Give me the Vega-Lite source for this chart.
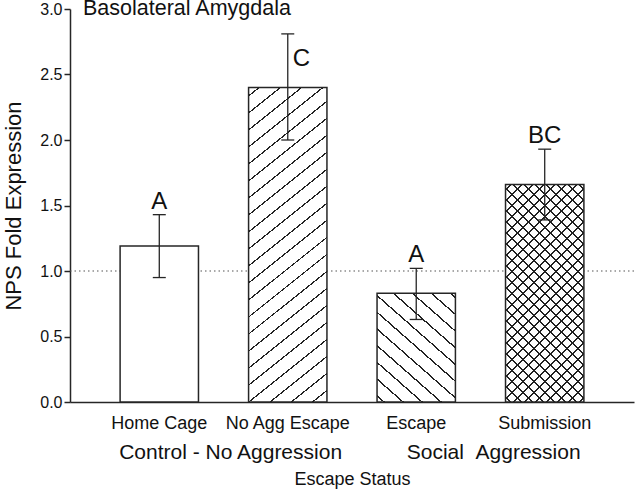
{
"$schema": "https://vega.github.io/schema/vega-lite/v6.json",
"width": 564, "height": 393,
"autosize": {"type": "none"},
"padding": {"left": 70, "top": 9, "right": 4, "bottom": 92},
"background": "white",
"config": {"view": {"stroke": null}, "font": "Liberation Sans", "axis": {"grid": false}},
"title": {"text": "Basolateral Amygdala", "anchor": "start", "frame": "group", "fontSize": 21.5, "fontWeight": "normal", "color": "#111", "dx": 13, "offset": -35, "baseline": "alphabetic", "font": "Liberation Sans"},
"data": {"values": [
 {"cond": "Home Cage", "mean": 1.19, "lo": 0.95, "hi": 1.43, "letter": "A"},
 {"cond": "No Agg Escape", "mean": 2.40, "lo": 2.00, "hi": 2.81, "letter": "C"},
 {"cond": "Escape", "mean": 0.83, "lo": 0.63, "hi": 1.02, "letter": "A"},
 {"cond": "Submission", "mean": 1.66, "lo": 1.39, "hi": 1.93, "letter": "BC"}
]},
"layer": [
 {"data": {"values": [{"ref": 1.0}]},
  "mark": {"type": "rule", "stroke": "#555", "strokeDash": [1.5, 3], "strokeWidth": 1.2},
  "encoding": {"y": {"field": "ref", "type": "quantitative", "title": "NPS Fold Expression", "scale": {"domain": [0, 3], "nice": false}}}},
 {"encoding": {
   "x": {"field": "cond", "type": "nominal", "sort": null,
         "scale": {"domain": ["Home Cage", "No Agg Escape", "Escape", "Submission"], "paddingInner": 0.39, "paddingOuter": 0.39},
         "axis": {"title": null, "labelAngle": 0, "ticks": false, "domain": true, "domainColor": "#262626", "domainWidth": 1.5, "labelFontSize": 18, "labelPadding": 12, "labelColor": "#111", "labelLimit": 300}},
   "y": {"field": "mean", "type": "quantitative", "title": "NPS Fold Expression", "scale": {"domain": [0, 3], "nice": false},
         "axis": {"title": "NPS Fold Expression", "values": [0, 0.5, 1, 1.5, 2, 2.5, 3], "format": ".1f", "tickSize": 6, "tickColor": "#262626", "tickWidth": 1.5, "domainColor": "#262626", "domainWidth": 1.5, "labelFontSize": 16, "labelPadding": 2, "labelColor": "#111", "titleFontSize": 22, "titleFontWeight": "normal", "titlePadding": 14, "titleColor": "#111"}}
  },
  "layer": [
   {"mark": {"type": "bar", "fill": "white"}},
   {"transform": [{"filter": "datum.cond === 'No Agg Escape'"}],
    "mark": {"type": "bar", "fill": {"gradient": "linear", "x1": 0, "y1": 0, "x2": 0.2300, "y2": 1.1536, "stops": [
{"offset":0,"color":"#fff"},
{"offset":0.0200,"color":"#fff"},{"offset":0.0200,"color":"#222"},{"offset":0.0242,"color":"#222"},{"offset":0.0242,"color":"#fff"},
{"offset":0.0651,"color":"#fff"},{"offset":0.0651,"color":"#222"},{"offset":0.0693,"color":"#222"},{"offset":0.0693,"color":"#fff"},
{"offset":0.1102,"color":"#fff"},{"offset":0.1102,"color":"#222"},{"offset":0.1144,"color":"#222"},{"offset":0.1144,"color":"#fff"},
{"offset":0.1553,"color":"#fff"},{"offset":0.1553,"color":"#222"},{"offset":0.1595,"color":"#222"},{"offset":0.1595,"color":"#fff"},
{"offset":0.2004,"color":"#fff"},{"offset":0.2004,"color":"#222"},{"offset":0.2046,"color":"#222"},{"offset":0.2046,"color":"#fff"},
{"offset":0.2455,"color":"#fff"},{"offset":0.2455,"color":"#222"},{"offset":0.2497,"color":"#222"},{"offset":0.2497,"color":"#fff"},
{"offset":0.2906,"color":"#fff"},{"offset":0.2906,"color":"#222"},{"offset":0.2948,"color":"#222"},{"offset":0.2948,"color":"#fff"},
{"offset":0.3357,"color":"#fff"},{"offset":0.3357,"color":"#222"},{"offset":0.3399,"color":"#222"},{"offset":0.3399,"color":"#fff"},
{"offset":0.3808,"color":"#fff"},{"offset":0.3808,"color":"#222"},{"offset":0.3850,"color":"#222"},{"offset":0.3850,"color":"#fff"},
{"offset":0.4259,"color":"#fff"},{"offset":0.4259,"color":"#222"},{"offset":0.4301,"color":"#222"},{"offset":0.4301,"color":"#fff"},
{"offset":0.4710,"color":"#fff"},{"offset":0.4710,"color":"#222"},{"offset":0.4752,"color":"#222"},{"offset":0.4752,"color":"#fff"},
{"offset":0.5161,"color":"#fff"},{"offset":0.5161,"color":"#222"},{"offset":0.5203,"color":"#222"},{"offset":0.5203,"color":"#fff"},
{"offset":0.5612,"color":"#fff"},{"offset":0.5612,"color":"#222"},{"offset":0.5654,"color":"#222"},{"offset":0.5654,"color":"#fff"},
{"offset":0.6063,"color":"#fff"},{"offset":0.6063,"color":"#222"},{"offset":0.6105,"color":"#222"},{"offset":0.6105,"color":"#fff"},
{"offset":0.6514,"color":"#fff"},{"offset":0.6514,"color":"#222"},{"offset":0.6556,"color":"#222"},{"offset":0.6556,"color":"#fff"},
{"offset":0.6965,"color":"#fff"},{"offset":0.6965,"color":"#222"},{"offset":0.7007,"color":"#222"},{"offset":0.7007,"color":"#fff"},
{"offset":0.7416,"color":"#fff"},{"offset":0.7416,"color":"#222"},{"offset":0.7458,"color":"#222"},{"offset":0.7458,"color":"#fff"},
{"offset":0.7867,"color":"#fff"},{"offset":0.7867,"color":"#222"},{"offset":0.7909,"color":"#222"},{"offset":0.7909,"color":"#fff"},
{"offset":0.8318,"color":"#fff"},{"offset":0.8318,"color":"#222"},{"offset":0.8360,"color":"#222"},{"offset":0.8360,"color":"#fff"},
{"offset":0.8769,"color":"#fff"},{"offset":0.8769,"color":"#222"},{"offset":0.8811,"color":"#222"},{"offset":0.8811,"color":"#fff"},
{"offset":0.9220,"color":"#fff"},{"offset":0.9220,"color":"#222"},{"offset":0.9262,"color":"#222"},{"offset":0.9262,"color":"#fff"},
{"offset":0.9671,"color":"#fff"},{"offset":0.9671,"color":"#222"},{"offset":0.9713,"color":"#222"},{"offset":0.9713,"color":"#fff"},
{"offset":1,"color":"#fff"}]}}},
   {"transform": [{"filter": "datum.cond === 'Escape'"}],
    "mark": {"type": "bar", "fill": {"gradient": "linear", "x1": 0, "y1": 1, "x2": 0.7392, "y2": -0.1654, "stops": [
{"offset":0,"color":"#fff"},
{"offset":0.030,"color":"#fff"},{"offset":0.030,"color":"#222"},{"offset":0.040,"color":"#222"},{"offset":0.040,"color":"#fff"},
{"offset":0.124,"color":"#fff"},{"offset":0.124,"color":"#222"},{"offset":0.134,"color":"#222"},{"offset":0.134,"color":"#fff"},
{"offset":0.218,"color":"#fff"},{"offset":0.218,"color":"#222"},{"offset":0.228,"color":"#222"},{"offset":0.228,"color":"#fff"},
{"offset":0.312,"color":"#fff"},{"offset":0.312,"color":"#222"},{"offset":0.322,"color":"#222"},{"offset":0.322,"color":"#fff"},
{"offset":0.406,"color":"#fff"},{"offset":0.406,"color":"#222"},{"offset":0.416,"color":"#222"},{"offset":0.416,"color":"#fff"},
{"offset":0.500,"color":"#fff"},{"offset":0.500,"color":"#222"},{"offset":0.510,"color":"#222"},{"offset":0.510,"color":"#fff"},
{"offset":0.594,"color":"#fff"},{"offset":0.594,"color":"#222"},{"offset":0.604,"color":"#222"},{"offset":0.604,"color":"#fff"},
{"offset":0.688,"color":"#fff"},{"offset":0.688,"color":"#222"},{"offset":0.698,"color":"#222"},{"offset":0.698,"color":"#fff"},
{"offset":0.782,"color":"#fff"},{"offset":0.782,"color":"#222"},{"offset":0.792,"color":"#222"},{"offset":0.792,"color":"#fff"},
{"offset":0.876,"color":"#fff"},{"offset":0.876,"color":"#222"},{"offset":0.886,"color":"#222"},{"offset":0.886,"color":"#fff"},
{"offset":0.970,"color":"#fff"},{"offset":0.970,"color":"#222"},{"offset":0.980,"color":"#222"},{"offset":0.980,"color":"#fff"},
{"offset":1,"color":"#fff"}]}}},
   {"transform": [{"filter": "datum.cond === 'Submission'"}],
    "mark": {"type": "bar", "fill": {"gradient": "linear", "x1": 0, "y1": 0, "x2": 0.4339, "y2": 1.2040, "stops": [
{"offset":0,"color":"#fff"},
{"offset":0.0150,"color":"#fff"},{"offset":0.0150,"color":"#222"},{"offset":0.0208,"color":"#222"},{"offset":0.0208,"color":"#fff"},
{"offset":0.0522,"color":"#fff"},{"offset":0.0522,"color":"#222"},{"offset":0.0580,"color":"#222"},{"offset":0.0580,"color":"#fff"},
{"offset":0.0893,"color":"#fff"},{"offset":0.0893,"color":"#222"},{"offset":0.0951,"color":"#222"},{"offset":0.0951,"color":"#fff"},
{"offset":0.1265,"color":"#fff"},{"offset":0.1265,"color":"#222"},{"offset":0.1323,"color":"#222"},{"offset":0.1323,"color":"#fff"},
{"offset":0.1637,"color":"#fff"},{"offset":0.1637,"color":"#222"},{"offset":0.1695,"color":"#222"},{"offset":0.1695,"color":"#fff"},
{"offset":0.2009,"color":"#fff"},{"offset":0.2009,"color":"#222"},{"offset":0.2067,"color":"#222"},{"offset":0.2067,"color":"#fff"},
{"offset":0.2380,"color":"#fff"},{"offset":0.2380,"color":"#222"},{"offset":0.2438,"color":"#222"},{"offset":0.2438,"color":"#fff"},
{"offset":0.2752,"color":"#fff"},{"offset":0.2752,"color":"#222"},{"offset":0.2810,"color":"#222"},{"offset":0.2810,"color":"#fff"},
{"offset":0.3124,"color":"#fff"},{"offset":0.3124,"color":"#222"},{"offset":0.3182,"color":"#222"},{"offset":0.3182,"color":"#fff"},
{"offset":0.3495,"color":"#fff"},{"offset":0.3495,"color":"#222"},{"offset":0.3553,"color":"#222"},{"offset":0.3553,"color":"#fff"},
{"offset":0.3867,"color":"#fff"},{"offset":0.3867,"color":"#222"},{"offset":0.3925,"color":"#222"},{"offset":0.3925,"color":"#fff"},
{"offset":0.4239,"color":"#fff"},{"offset":0.4239,"color":"#222"},{"offset":0.4297,"color":"#222"},{"offset":0.4297,"color":"#fff"},
{"offset":0.4610,"color":"#fff"},{"offset":0.4610,"color":"#222"},{"offset":0.4668,"color":"#222"},{"offset":0.4668,"color":"#fff"},
{"offset":0.4982,"color":"#fff"},{"offset":0.4982,"color":"#222"},{"offset":0.5040,"color":"#222"},{"offset":0.5040,"color":"#fff"},
{"offset":0.5354,"color":"#fff"},{"offset":0.5354,"color":"#222"},{"offset":0.5412,"color":"#222"},{"offset":0.5412,"color":"#fff"},
{"offset":0.5726,"color":"#fff"},{"offset":0.5726,"color":"#222"},{"offset":0.5784,"color":"#222"},{"offset":0.5784,"color":"#fff"},
{"offset":0.6097,"color":"#fff"},{"offset":0.6097,"color":"#222"},{"offset":0.6155,"color":"#222"},{"offset":0.6155,"color":"#fff"},
{"offset":0.6469,"color":"#fff"},{"offset":0.6469,"color":"#222"},{"offset":0.6527,"color":"#222"},{"offset":0.6527,"color":"#fff"},
{"offset":0.6841,"color":"#fff"},{"offset":0.6841,"color":"#222"},{"offset":0.6899,"color":"#222"},{"offset":0.6899,"color":"#fff"},
{"offset":0.7212,"color":"#fff"},{"offset":0.7212,"color":"#222"},{"offset":0.7270,"color":"#222"},{"offset":0.7270,"color":"#fff"},
{"offset":0.7584,"color":"#fff"},{"offset":0.7584,"color":"#222"},{"offset":0.7642,"color":"#222"},{"offset":0.7642,"color":"#fff"},
{"offset":0.7956,"color":"#fff"},{"offset":0.7956,"color":"#222"},{"offset":0.8014,"color":"#222"},{"offset":0.8014,"color":"#fff"},
{"offset":0.8327,"color":"#fff"},{"offset":0.8327,"color":"#222"},{"offset":0.8385,"color":"#222"},{"offset":0.8385,"color":"#fff"},
{"offset":0.8699,"color":"#fff"},{"offset":0.8699,"color":"#222"},{"offset":0.8757,"color":"#222"},{"offset":0.8757,"color":"#fff"},
{"offset":0.9071,"color":"#fff"},{"offset":0.9071,"color":"#222"},{"offset":0.9129,"color":"#222"},{"offset":0.9129,"color":"#fff"},
{"offset":0.9443,"color":"#fff"},{"offset":0.9443,"color":"#222"},{"offset":0.9501,"color":"#222"},{"offset":0.9501,"color":"#fff"},
{"offset":0.9814,"color":"#fff"},{"offset":0.9814,"color":"#222"},{"offset":0.9872,"color":"#222"},{"offset":0.9872,"color":"#fff"},
{"offset":1,"color":"#fff"}]}}},
   {"transform": [{"filter": "datum.cond === 'Submission'"}],
    "mark": {"type": "bar", "fill": {"gradient": "linear", "x1": 0, "y1": 1, "x2": 0.4339, "y2": -0.2040, "stops": [
{"offset":0,"color":"rgba(34,34,34,0)"},
{"offset":0.0150,"color":"rgba(34,34,34,0)"},{"offset":0.0150,"color":"#222"},{"offset":0.0208,"color":"#222"},{"offset":0.0208,"color":"rgba(34,34,34,0)"},
{"offset":0.0522,"color":"rgba(34,34,34,0)"},{"offset":0.0522,"color":"#222"},{"offset":0.0580,"color":"#222"},{"offset":0.0580,"color":"rgba(34,34,34,0)"},
{"offset":0.0893,"color":"rgba(34,34,34,0)"},{"offset":0.0893,"color":"#222"},{"offset":0.0951,"color":"#222"},{"offset":0.0951,"color":"rgba(34,34,34,0)"},
{"offset":0.1265,"color":"rgba(34,34,34,0)"},{"offset":0.1265,"color":"#222"},{"offset":0.1323,"color":"#222"},{"offset":0.1323,"color":"rgba(34,34,34,0)"},
{"offset":0.1637,"color":"rgba(34,34,34,0)"},{"offset":0.1637,"color":"#222"},{"offset":0.1695,"color":"#222"},{"offset":0.1695,"color":"rgba(34,34,34,0)"},
{"offset":0.2009,"color":"rgba(34,34,34,0)"},{"offset":0.2009,"color":"#222"},{"offset":0.2067,"color":"#222"},{"offset":0.2067,"color":"rgba(34,34,34,0)"},
{"offset":0.2380,"color":"rgba(34,34,34,0)"},{"offset":0.2380,"color":"#222"},{"offset":0.2438,"color":"#222"},{"offset":0.2438,"color":"rgba(34,34,34,0)"},
{"offset":0.2752,"color":"rgba(34,34,34,0)"},{"offset":0.2752,"color":"#222"},{"offset":0.2810,"color":"#222"},{"offset":0.2810,"color":"rgba(34,34,34,0)"},
{"offset":0.3124,"color":"rgba(34,34,34,0)"},{"offset":0.3124,"color":"#222"},{"offset":0.3182,"color":"#222"},{"offset":0.3182,"color":"rgba(34,34,34,0)"},
{"offset":0.3495,"color":"rgba(34,34,34,0)"},{"offset":0.3495,"color":"#222"},{"offset":0.3553,"color":"#222"},{"offset":0.3553,"color":"rgba(34,34,34,0)"},
{"offset":0.3867,"color":"rgba(34,34,34,0)"},{"offset":0.3867,"color":"#222"},{"offset":0.3925,"color":"#222"},{"offset":0.3925,"color":"rgba(34,34,34,0)"},
{"offset":0.4239,"color":"rgba(34,34,34,0)"},{"offset":0.4239,"color":"#222"},{"offset":0.4297,"color":"#222"},{"offset":0.4297,"color":"rgba(34,34,34,0)"},
{"offset":0.4610,"color":"rgba(34,34,34,0)"},{"offset":0.4610,"color":"#222"},{"offset":0.4668,"color":"#222"},{"offset":0.4668,"color":"rgba(34,34,34,0)"},
{"offset":0.4982,"color":"rgba(34,34,34,0)"},{"offset":0.4982,"color":"#222"},{"offset":0.5040,"color":"#222"},{"offset":0.5040,"color":"rgba(34,34,34,0)"},
{"offset":0.5354,"color":"rgba(34,34,34,0)"},{"offset":0.5354,"color":"#222"},{"offset":0.5412,"color":"#222"},{"offset":0.5412,"color":"rgba(34,34,34,0)"},
{"offset":0.5726,"color":"rgba(34,34,34,0)"},{"offset":0.5726,"color":"#222"},{"offset":0.5784,"color":"#222"},{"offset":0.5784,"color":"rgba(34,34,34,0)"},
{"offset":0.6097,"color":"rgba(34,34,34,0)"},{"offset":0.6097,"color":"#222"},{"offset":0.6155,"color":"#222"},{"offset":0.6155,"color":"rgba(34,34,34,0)"},
{"offset":0.6469,"color":"rgba(34,34,34,0)"},{"offset":0.6469,"color":"#222"},{"offset":0.6527,"color":"#222"},{"offset":0.6527,"color":"rgba(34,34,34,0)"},
{"offset":0.6841,"color":"rgba(34,34,34,0)"},{"offset":0.6841,"color":"#222"},{"offset":0.6899,"color":"#222"},{"offset":0.6899,"color":"rgba(34,34,34,0)"},
{"offset":0.7212,"color":"rgba(34,34,34,0)"},{"offset":0.7212,"color":"#222"},{"offset":0.7270,"color":"#222"},{"offset":0.7270,"color":"rgba(34,34,34,0)"},
{"offset":0.7584,"color":"rgba(34,34,34,0)"},{"offset":0.7584,"color":"#222"},{"offset":0.7642,"color":"#222"},{"offset":0.7642,"color":"rgba(34,34,34,0)"},
{"offset":0.7956,"color":"rgba(34,34,34,0)"},{"offset":0.7956,"color":"#222"},{"offset":0.8014,"color":"#222"},{"offset":0.8014,"color":"rgba(34,34,34,0)"},
{"offset":0.8327,"color":"rgba(34,34,34,0)"},{"offset":0.8327,"color":"#222"},{"offset":0.8385,"color":"#222"},{"offset":0.8385,"color":"rgba(34,34,34,0)"},
{"offset":0.8699,"color":"rgba(34,34,34,0)"},{"offset":0.8699,"color":"#222"},{"offset":0.8757,"color":"#222"},{"offset":0.8757,"color":"rgba(34,34,34,0)"},
{"offset":0.9071,"color":"rgba(34,34,34,0)"},{"offset":0.9071,"color":"#222"},{"offset":0.9129,"color":"#222"},{"offset":0.9129,"color":"rgba(34,34,34,0)"},
{"offset":0.9443,"color":"rgba(34,34,34,0)"},{"offset":0.9443,"color":"#222"},{"offset":0.9501,"color":"#222"},{"offset":0.9501,"color":"rgba(34,34,34,0)"},
{"offset":0.9814,"color":"rgba(34,34,34,0)"},{"offset":0.9814,"color":"#222"},{"offset":0.9872,"color":"#222"},{"offset":0.9872,"color":"rgba(34,34,34,0)"},
{"offset":1,"color":"rgba(34,34,34,0)"}]}}},
   {"mark": {"type": "bar", "fillOpacity": 0, "stroke": "#262626", "strokeWidth": 1.5}},
   {"mark": {"type": "rule", "stroke": "#262626", "strokeWidth": 1.3},
    "encoding": {"y": {"field": "lo", "type": "quantitative", "title": "NPS Fold Expression"}, "y2": {"field": "hi"}}},
   {"mark": {"type": "tick", "color": "#262626", "size": 13, "thickness": 1.3, "opacity": 1},
    "encoding": {"y": {"field": "lo", "type": "quantitative", "title": "NPS Fold Expression"}}},
   {"mark": {"type": "tick", "color": "#262626", "size": 13, "thickness": 1.3, "opacity": 1},
    "encoding": {"y": {"field": "hi", "type": "quantitative", "title": "NPS Fold Expression"}}},
   {"transform": [{"filter": "datum.cond !== 'No Agg Escape'"}],
    "mark": {"type": "text", "fontSize": 24, "baseline": "alphabetic", "align": "center", "dy": -6, "color": "#111"},
    "encoding": {"y": {"field": "hi", "type": "quantitative", "title": "NPS Fold Expression"}, "text": {"field": "letter"}}},
   {"transform": [{"filter": "datum.cond === 'No Agg Escape'"}],
    "mark": {"type": "text", "fontSize": 24, "baseline": "middle", "align": "left", "dx": 5, "dy": 25, "color": "#111"},
    "encoding": {"y": {"field": "hi", "type": "quantitative", "title": "NPS Fold Expression"}, "text": {"field": "letter"}}}
  ]
 },
 {"data": {"values": [{"group": "Control - No Aggression"}, {"group": "Social\u00a0\u00a0Aggression"}]},
  "mark": {"type": "point", "opacity": 0},
  "encoding": {"x": {"field": "group", "type": "nominal", "sort": null,
     "scale": {"type": "point", "domain": ["Control - No Aggression", "Social\u00a0\u00a0Aggression"], "padding": 0.572, "align": 0.532},
     "axis": {"title": "Escape Status", "orient": "bottom", "domain": false, "ticks": false, "labelAngle": 0, "labelFontSize": 21, "labelPadding": 39, "labelLimit": 400, "labelOverlap": false, "labelColor": "#111", "titleFontSize": 18, "titleFontWeight": "normal", "titlePadding": 8, "titleColor": "#111"}}}}
],
"resolve": {"scale": {"x": "independent"}, "axis": {"x": "independent"}}
}
